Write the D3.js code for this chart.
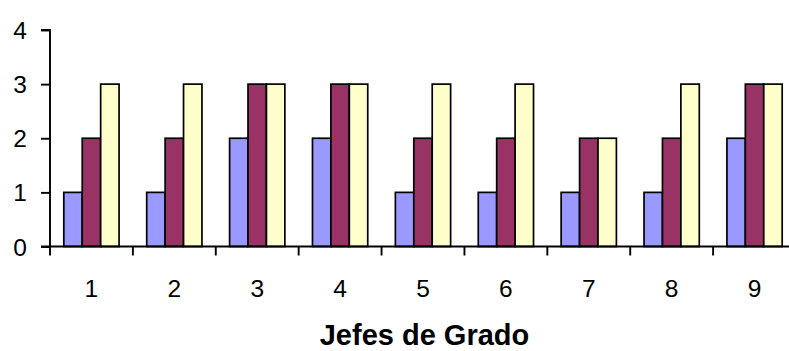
<!DOCTYPE html>
<html>
<head>
<meta charset="utf-8">
<script src="https://cdn.jsdelivr.net/npm/d3@7"></script>
<style>
  html, body { margin: 0; padding: 0; background: #fff; }
  svg { display: block; }
  text { font-family: "Liberation Sans", Arial, sans-serif; fill: #000; }
</style>
</head>
<body>
<svg id="chart" width="789" height="351"></svg>
<script>
// Categories along the x axis
const categories = ["1", "2", "3", "4", "5", "6", "7", "8", "9"];
// Three series per category
const seriesA = [1, 1, 2, 2, 1, 1, 1, 1, 2];
const seriesB = [2, 2, 3, 3, 2, 2, 2, 2, 3];
const seriesC = [3, 3, 3, 3, 3, 3, 2, 3, 3];
const seriesColors = ["#9999FF", "#993366", "#FFFFCC"];
const yTicks = [0, 1, 2, 3, 4];
const xTitle = "Jefes de Grado";

const series = [seriesA, seriesB, seriesC];
const svg = d3.select("#chart");

const plotLeft = 50, plotRight = 796, plotTop = 30, plotBottom = 246.5;

const x = d3.scaleBand().domain(categories).range([plotLeft, plotRight]).paddingInner(0).paddingOuter(0);
// gap of 1.5 bar widths between groups
const barW = x.bandwidth() / (series.length + 1.5);
const y = d3.scaleLinear().domain([0, 4]).range([plotBottom, plotTop]);

// Bars
categories.forEach((c, i) => {
  const x0 = x(c) + barW * 0.75;
  series.forEach((s, k) => {
    svg.append("rect")
      .attr("x", x0 + k * barW)
      .attr("y", y(s[i]))
      .attr("width", barW)
      .attr("height", y(0) - y(s[i]))
      .attr("fill", seriesColors[k])
      .attr("stroke", "#000")
      .attr("stroke-width", 1.7);
  });
});

// Y axis
const yAxis = d3.axisLeft(y).tickValues(yTicks).tickSize(9).tickPadding(14).tickFormat(d3.format("d"));
const gy = svg.append("g").attr("transform", `translate(${plotLeft},0)`).call(yAxis);
gy.select(".domain").attr("stroke", "#000").attr("stroke-width", 1.9).attr("d", `M-9,${plotTop}H0V${plotBottom}`);
gy.selectAll(".tick line").attr("stroke", "#000").attr("stroke-width", 1.9);
gy.selectAll(".tick text").style("font-size", "24.5px").attr("dy", "0.35em");

// X axis: ticks on category boundaries, labels at centres
const gx = svg.append("g").attr("transform", `translate(0,${plotBottom})`);
gx.append("line").attr("x1", plotLeft - 9).attr("x2", plotRight).attr("y1", 0).attr("y2", 0)
  .attr("stroke", "#000").attr("stroke-width", 1.9);
gx.selectAll("line.tk").data(categories).enter().append("line")
  .attr("class", "tk")
  .attr("x1", d => x(d)).attr("x2", d => x(d))
  .attr("y1", 0).attr("y2", 9)
  .attr("stroke", "#000").attr("stroke-width", 1.9);
gx.append("line").attr("x1", plotRight).attr("x2", plotRight).attr("y1", 0).attr("y2", 9)
  .attr("stroke", "#000").attr("stroke-width", 1.9);
gx.selectAll("text.lbl").data(categories).enter().append("text")
  .attr("class", "lbl")
  .attr("x", d => x(d) + x.bandwidth() / 2)
  .attr("y", 297 - plotBottom)
  .attr("text-anchor", "middle")
  .style("font-size", "24.5px")
  .text(d => d);

// Axis title
svg.append("text")
  .attr("x", (plotLeft + plotRight) / 2 + 1.5)
  .attr("y", 345)
  .attr("text-anchor", "middle")
  .style("font-size", "29px")
  .style("font-weight", "bold")
  .text(xTitle);
</script>
</body>
</html>
